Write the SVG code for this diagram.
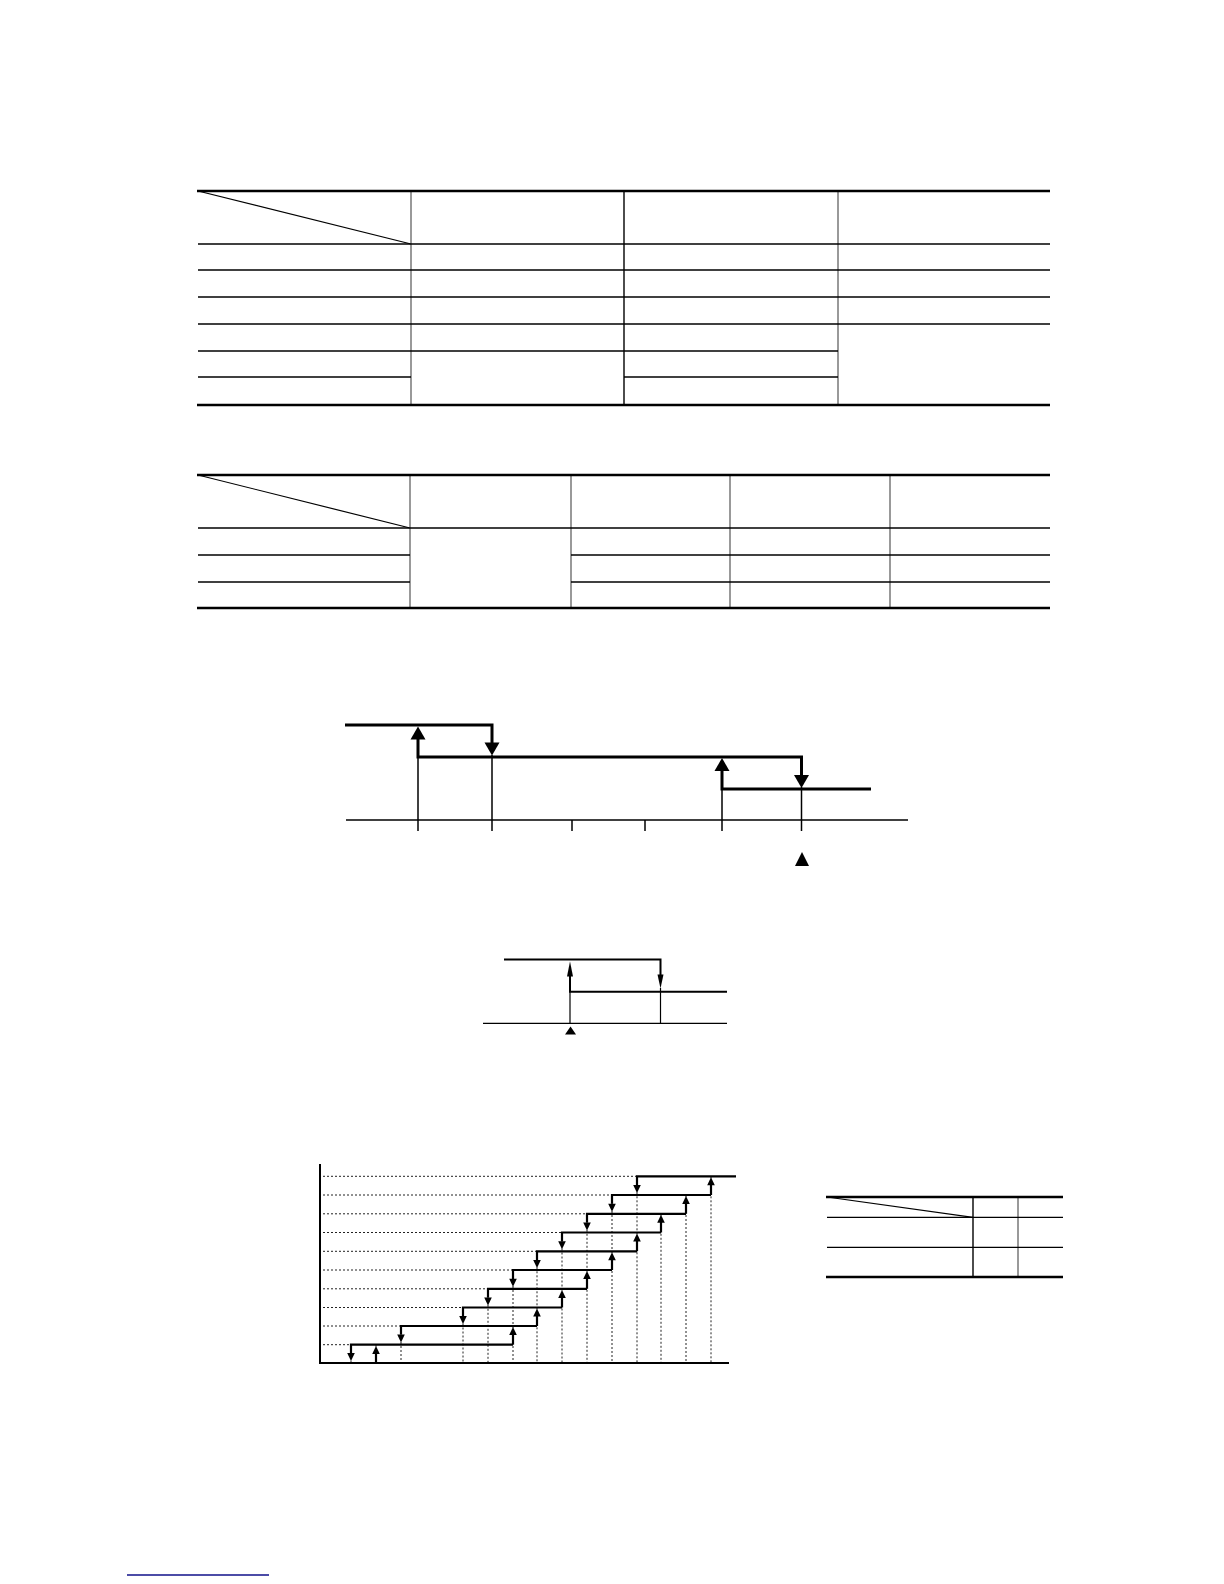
<svg xmlns="http://www.w3.org/2000/svg" xmlns:xlink="http://www.w3.org/1999/xlink" width="1224" height="1584" viewBox="0 0 1224 1584">
<style>
.thick{stroke:#000;stroke-width:2.6;fill:none}
.row{stroke:#000;stroke-width:1.3;fill:none}
.vg{stroke:#6e6e6e;stroke-width:1.4;fill:none}
.vb{stroke:#000;stroke-width:1.4;fill:none}
.diag{stroke:#000;stroke-width:1.2;fill:none}
.step1{stroke:#000;stroke-width:3;fill:none}
.thin1{stroke:#000;stroke-width:1.5;fill:none}
.step2{stroke:#000;stroke-width:2;fill:none}
.thin2{stroke:#000;stroke-width:1.2;fill:none}
.step3{stroke:#000;stroke-width:2.2;fill:none}
.dot{stroke:#222;stroke-width:1;stroke-dasharray:2 2;fill:none}
.axis3{stroke:#000;stroke-width:2;fill:none}
.ah{fill:#000}
</style>
<defs>
<path id="up" d="M0,0 L7.5,13 L-7.5,13 Z"/>
<path id="dn" d="M0,0 L7.5,-13 L-7.5,-13 Z"/>
<path id="sup" d="M0,0 L3,15 L-3,15 Z"/>
<path id="sdn" d="M0,0 L3,-14 L-3,-14 Z"/>
<path id="tup" d="M0,0 L3.8,8 L-3.8,8 Z"/>
<path id="tdn" d="M0,0 L3.8,-8 L-3.8,-8 Z"/>
</defs>
<rect width="1224" height="1584" fill="#fff"/>

<g id="table1">
<line class="diag" x1="198" y1="191" x2="411" y2="244"/>
<line class="vg" x1="411" y1="191" x2="411" y2="405"/>
<line class="vb" x1="624" y1="191" x2="624" y2="405"/>
<line class="vg" x1="838" y1="191" x2="838" y2="405"/>
<line class="row" x1="198" y1="244" x2="1050" y2="244"/>
<line class="row" x1="198" y1="270" x2="1050" y2="270"/>
<line class="row" x1="198" y1="297" x2="1050" y2="297"/>
<line class="row" x1="198" y1="324" x2="1050" y2="324"/>
<line class="row" x1="198" y1="351" x2="838" y2="351"/>
<line class="row" x1="198" y1="377" x2="411" y2="377"/>
<line class="row" x1="624" y1="377" x2="838" y2="377"/>
<line class="thick" x1="197" y1="191" x2="1050" y2="191"/>
<line class="thick" x1="197" y1="405" x2="1050" y2="405"/>
</g>

<g id="table2">
<line class="diag" x1="198" y1="475" x2="410" y2="528"/>
<line class="vg" x1="410" y1="475" x2="410" y2="608"/>
<line class="vg" x1="571" y1="475" x2="571" y2="608"/>
<line class="vg" x1="730" y1="475" x2="730" y2="608"/>
<line class="vg" x1="890" y1="475" x2="890" y2="608"/>
<line class="row" x1="198" y1="528" x2="1050" y2="528"/>
<line class="row" x1="198" y1="555" x2="410" y2="555"/>
<line class="row" x1="571" y1="555" x2="1050" y2="555"/>
<line class="row" x1="198" y1="582" x2="410" y2="582"/>
<line class="row" x1="571" y1="582" x2="1050" y2="582"/>
<line class="thick" x1="197" y1="475" x2="1050" y2="475"/>
<line class="thick" x1="197" y1="608" x2="1050" y2="608"/>
</g>

<g id="graph1">
<line class="thin1" x1="346" y1="820" x2="908" y2="820"/>
<line class="thin1" x1="418" y1="757" x2="418" y2="831"/>
<line class="thin1" x1="492" y1="755" x2="492" y2="831"/>
<line class="thin1" x1="572" y1="820" x2="572" y2="831"/>
<line class="thin1" x1="645" y1="820" x2="645" y2="831"/>
<line class="thin1" x1="722" y1="789" x2="722" y2="831"/>
<line class="thin1" x1="801.5" y1="787" x2="801.5" y2="831"/>
<path class="step1" d="M345,725 H492 V744"/>
<path class="step1" d="M418,738 V757 H801.5 V777"/>
<path class="step1" d="M722,770 V789 H871"/>
<use href="#up" class="ah" x="418" y="726.5"/>
<use href="#dn" class="ah" x="492" y="755.5"/>
<use href="#up" class="ah" x="722" y="758"/>
<use href="#dn" class="ah" x="801.5" y="788"/>
<path class="ah" d="M802,852 L809,866 L795,866 Z"/>
</g>

<g id="graph2">
<line class="thin2" x1="483" y1="1023.3" x2="727" y2="1023.3"/>
<line class="thin2" x1="570" y1="992" x2="570" y2="1023.3"/>
<line class="thin2" x1="660.5" y1="988" x2="660.5" y2="1023.3"/>
<path class="step2" d="M504,959.5 H660.5 V975"/>
<path class="step2" d="M570,976 V991.7 H727"/>
<use href="#sup" class="ah" x="570" y="961.5"/>
<use href="#sdn" class="ah" x="660.5" y="988.5"/>
<path class="ah" d="M570.5,1026.5 L576,1034.5 L565,1034.5 Z"/>
</g>

<g id="graph3">
<g id="grid3">
<line class="dot" x1="323" y1="1344.7" x2="351" y2="1344.7"/>
<line class="dot" x1="323" y1="1326" x2="401" y2="1326"/>
<line class="dot" x1="323" y1="1307.5" x2="463" y2="1307.5"/>
<line class="dot" x1="323" y1="1288.8" x2="488" y2="1288.8"/>
<line class="dot" x1="323" y1="1270" x2="513" y2="1270"/>
<line class="dot" x1="323" y1="1251.3" x2="537" y2="1251.3"/>
<line class="dot" x1="323" y1="1232.5" x2="562" y2="1232.5"/>
<line class="dot" x1="323" y1="1213.8" x2="587" y2="1213.8"/>
<line class="dot" x1="323" y1="1195" x2="612" y2="1195"/>
<line class="dot" x1="323" y1="1176.3" x2="637" y2="1176.3"/>
<line class="dot" x1="351" y1="1344.7" x2="351" y2="1363"/>
<line class="dot" x1="376" y1="1344.7" x2="376" y2="1363"/>
<line class="dot" x1="401" y1="1326" x2="401" y2="1363"/>
<line class="dot" x1="463" y1="1307.5" x2="463" y2="1363"/>
<line class="dot" x1="488" y1="1288.8" x2="488" y2="1363"/>
<line class="dot" x1="513" y1="1270" x2="513" y2="1363"/>
<line class="dot" x1="537" y1="1251.3" x2="537" y2="1363"/>
<line class="dot" x1="562" y1="1232.5" x2="562" y2="1363"/>
<line class="dot" x1="587" y1="1213.8" x2="587" y2="1363"/>
<line class="dot" x1="612" y1="1195" x2="612" y2="1363"/>
<line class="dot" x1="637" y1="1176.3" x2="637" y2="1363"/>
<line class="dot" x1="661" y1="1213.8" x2="661" y2="1363"/>
<line class="dot" x1="686" y1="1195" x2="686" y2="1363"/>
<line class="dot" x1="711" y1="1176.3" x2="711" y2="1363"/>
</g>
<line class="axis3" x1="320" y1="1164" x2="320" y2="1364"/>
<line class="axis3" x1="319" y1="1363" x2="729" y2="1363"/>
<g id="steps3">
<path class="step3" d="M351,1353 V1344.7 H513"/>
<path class="step3" d="M401,1334.5 V1326 H537"/>
<path class="step3" d="M463,1316 V1307.5 H562"/>
<path class="step3" d="M488,1297.5 V1288.8 H587"/>
<path class="step3" d="M513,1279 V1270 H612"/>
<path class="step3" d="M537,1260 V1251.3 H637"/>
<path class="step3" d="M562,1241.3 V1232.5 H661"/>
<path class="step3" d="M587,1222.5 V1213.8 H686"/>
<path class="step3" d="M612,1203.8 V1195 H711"/>
<path class="step3" d="M637,1185 V1176.3 H736"/>
<path class="step3" d="M376,1363 V1353"/>
<path class="step3" d="M513,1344.7 V1334"/>
<path class="step3" d="M537,1326 V1316"/>
<path class="step3" d="M562,1307.5 V1297"/>
<path class="step3" d="M587,1288.8 V1278"/>
<path class="step3" d="M612,1270 V1259.5"/>
<path class="step3" d="M637,1251.3 V1241"/>
<path class="step3" d="M661,1232.5 V1222"/>
<path class="step3" d="M686,1213.8 V1203"/>
<path class="step3" d="M711,1195 V1184.5"/>
</g>
<g id="arrows3" class="ah">
<use href="#tdn" x="351" y="1361"/>
<use href="#tdn" x="401" y="1342.5"/>
<use href="#tdn" x="463" y="1324"/>
<use href="#tdn" x="488" y="1305.5"/>
<use href="#tdn" x="513" y="1286.8"/>
<use href="#tdn" x="537" y="1268"/>
<use href="#tdn" x="562" y="1249.3"/>
<use href="#tdn" x="587" y="1230.5"/>
<use href="#tdn" x="612" y="1211.8"/>
<use href="#tdn" x="637" y="1193"/>
<use href="#tup" x="376" y="1346"/>
<use href="#tup" x="513" y="1327"/>
<use href="#tup" x="537" y="1308.5"/>
<use href="#tup" x="562" y="1290"/>
<use href="#tup" x="587" y="1271"/>
<use href="#tup" x="612" y="1252.3"/>
<use href="#tup" x="637" y="1233.5"/>
<use href="#tup" x="661" y="1214.8"/>
<use href="#tup" x="686" y="1196"/>
<use href="#tup" x="711" y="1177.3"/>
</g>
</g>

<g id="table3">
<line class="diag" x1="827" y1="1197" x2="973" y2="1217.3"/>
<line class="vb" x1="973" y1="1197" x2="973" y2="1277"/>
<line class="vg" x1="1018" y1="1197" x2="1018" y2="1277"/>
<line class="row" x1="827" y1="1217.3" x2="1063" y2="1217.3"/>
<line class="row" x1="827" y1="1247.3" x2="1063" y2="1247.3"/>
<line class="thick" x1="826" y1="1197" x2="1063" y2="1197"/>
<line class="thick" x1="826" y1="1277" x2="1063" y2="1277"/>
</g>

<g id="link">
<line x1="127" y1="1575" x2="269" y2="1575" stroke="#10108a" stroke-width="1.5"/>
</g>
</svg>
